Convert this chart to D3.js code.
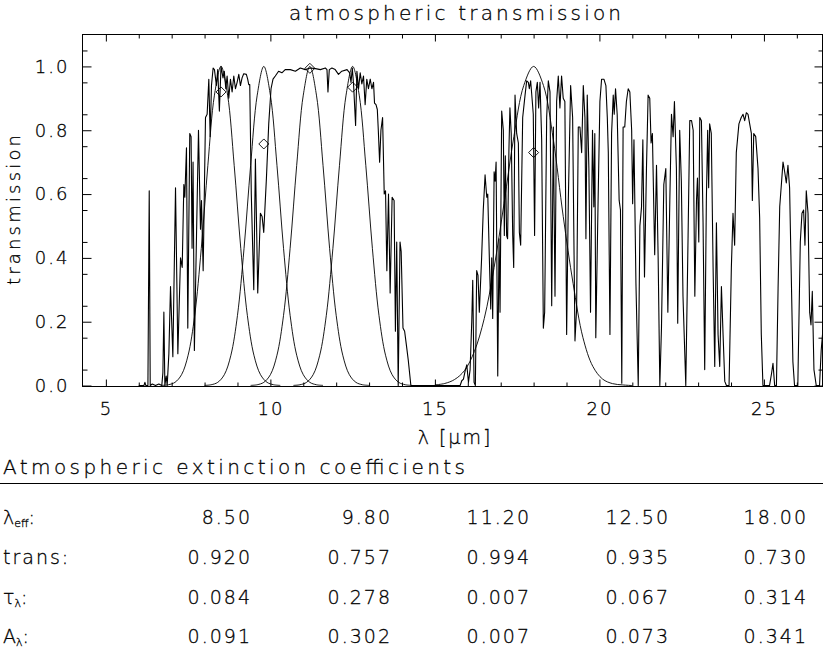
<!DOCTYPE html>
<html>
<head>
<meta charset="utf-8">
<script src="https://cdn.jsdelivr.net/npm/d3@7"></script>
<style>
  body { margin: 0; background: #fff; }
  svg text { font-family: "DejaVu Sans", "Liberation Sans", sans-serif; font-weight: 200; fill: #000; stroke: #000; stroke-width: 0.3px; }
</style>
</head>
<body>
<div id="chart"></div>
<script>
// measured atmospheric transmission (wavelength in micron, transmission)
var specWave = [6.00,6.156,6.187,6.217,6.278,6.318,6.348,6.41,6.51,6.61,6.70,6.733,6.763,6.793,6.834,6.864,6.915,6.965,7.036,7.117,
  7.188,7.269,7.32,7.37,7.40,7.45,7.49,7.55,7.59,7.62,7.65,7.69,7.755,7.815,7.876,7.906,7.957,8.028,8.078,8.129,
  8.17,8.21,8.26,8.30,8.36,8.40,8.45,8.50,8.56,8.60,8.645,8.685,8.736,8.786,8.837,8.888,8.938,8.989,9.04,9.09,
  9.14,9.19,9.27,9.31,9.343,9.373,9.42,9.495,9.545,9.616,9.697,9.748,9.798,9.88,9.95,10.02,10.08,10.15,10.25,10.35,
  10.45,10.607,10.76,10.91,11.06,11.21,11.37,11.52,11.67,11.72,11.75,11.79,11.87,11.97,12.07,12.17,12.33,12.41,12.45,12.49,
  12.53,12.59,12.63,12.68,12.73,12.78,12.83,12.88,12.93,12.98,13.035,13.085,13.135,13.165,13.21,13.25,13.28,13.32,13.36,13.41,
  13.46,13.50,13.54,13.59,13.64,13.70,13.76,13.80,13.84,13.885,13.94,13.975,14.03,14.08,14.13,14.19,14.27,14.6,15.0,15.463,
  15.767,15.817,15.868,15.918,15.969,16.02,16.07,16.12,16.15,16.19,16.23,16.27,16.31,16.35,16.42,16.47,16.525,16.576,16.606,16.657,
  16.697,16.727,16.757,16.80,16.83,16.86,16.91,16.95,16.98,17.03,17.08,17.11,17.14,17.18,17.21,17.25,17.28,17.32,17.365,17.395,
  17.435,17.485,17.537,17.567,17.607,17.668,17.74,17.79,17.84,17.87,17.91,17.96,17.99,18.03,18.07,18.113,18.153,18.195,18.245,18.296,
  18.336,18.397,18.447,18.498,18.55,18.60,18.65,18.70,18.75,18.80,18.85,18.90,18.95,19.004,19.055,19.125,19.186,19.257,19.307,19.358,
  19.408,19.46,19.51,19.56,19.59,19.63,19.68,19.73,19.79,19.83,19.86,19.89,19.96,20.015,20.066,20.137,20.197,20.24,20.27,20.32,
  20.37,20.42,20.45,20.49,20.54,20.60,20.64,20.68,20.72,20.77,20.82,20.875,20.925,20.98,21.01,21.05,21.11,21.18,21.23,21.28,
  21.32,21.37,21.43,21.48,21.53,21.57,21.61,21.68,21.735,21.785,21.836,21.886,21.957,22.018,22.08,22.14,22.19,22.24,22.28,22.34,
  22.38,22.44,22.49,22.54,22.625,22.695,22.746,22.80,22.85,22.90,22.95,22.98,23.02,23.05,23.10,23.15,23.20,23.25,23.29,23.32,
  23.35,23.40,23.455,23.505,23.556,23.606,23.657,23.708,23.758,23.81,23.86,23.94,24.01,24.06,24.11,24.16,24.24,24.31,24.365,24.415,
  24.466,24.517,24.567,24.618,24.648,24.69,24.75,24.82,24.87,24.92,24.97,25.17,25.235,25.275,25.326,25.38,25.43,25.48,25.53,25.58,
  25.63,25.68,25.73,25.78,25.83,25.88,25.93,26.03,26.105,26.156,26.206,26.247,26.287,26.34,26.39,26.43,26.47,26.52,26.59,26.69,
  26.74,26.78];
var specTrans = [0,0,0.01,0,0,0.61,0,0.005,0,0.005,0,0.04,0.23,0,0.03,0,0.10,0.31,0.09,0.62,
  0.10,0.40,0.37,0.63,0.59,0.745,0.18,0.79,0.78,0.43,0.70,0.11,0.47,0.80,0.49,0.58,0.36,0.84,0.85,0.96,
  0.78,0.94,0.995,0.99,0.94,0.99,0.86,1.0,0.964,0.985,0.93,0.97,0.90,0.96,0.92,0.97,0.93,0.95,0.975,0.94,
  0.964,0.977,0.975,0.96,0.943,0.943,0.60,0.30,0.71,0.29,0.54,0.53,0.48,0.65,0.82,0.93,0.96,0.97,0.985,0.98,
  0.99,0.99,0.985,0.995,0.99,0.995,0.993,0.99,0.995,0.99,0.92,0.99,0.995,0.99,0.975,0.985,0.99,0.98,0.95,0.995,
  0.94,0.815,0.985,0.93,0.98,0.945,0.97,0.88,0.96,0.93,0.96,0.93,0.95,0.885,0.88,0.865,0.80,0.70,0.80,0.84,
  0.60,0.61,0.36,0.60,0.29,0.59,0.58,0.17,0.45,0.0,0.45,0.42,0.18,0.17,0.13,0.08,0,0,0,0,
  0,0.015,0.02,0.045,0.065,0.01,0.05,0.20,0.33,0.01,0,0.36,0.345,0.23,0.40,0.55,0.66,0.59,0.60,0.39,
  0.24,0.40,0.21,0.67,0.64,0.70,0.03,0.46,0.23,0.86,0.80,0.47,0.72,0.47,0.46,0.74,0.87,0.79,0.47,0.37,
  0.91,0.79,0.76,0.48,0.44,0.84,0.91,0.955,0.95,0.93,0.955,0.89,0.85,0.47,0.92,0.95,0.87,0.95,0.77,0.18,
  0.23,0.84,0.955,0.92,0.25,0.81,0.28,0.89,0.97,0.87,0.97,0.90,0.89,0.16,0.58,0.94,0.84,0.14,0.24,0.81,
  0.81,0.73,0.94,0.84,0.46,0.91,0.68,0.23,0.80,0.56,0.79,0.15,0.58,0.89,0.96,0.96,0.94,0.84,0.73,0.16,
  0.79,0.91,0.85,0.93,0.85,0.58,0.55,0.007,0.81,0.81,0.89,0.93,0.92,0.80,0.57,0.77,0.32,0.0,0.50,0.56,
  0.77,0.34,0.68,0.91,0.90,0.76,0.79,0.41,0.69,0.40,0.0,0.18,0.63,0.68,0.23,0.58,0.85,0.78,0.89,0.68,
  0.195,0.80,0.64,0.28,0.0,0.47,0.83,0.83,0.80,0.28,0.58,0.65,0.45,0.84,0.83,0.51,0.05,0.58,0.80,0.62,
  0.82,0.79,0.37,0.06,0.51,0.16,0.06,0.31,0.16,0.013,0,0,0.37,0.54,0.44,0.73,0.82,0.84,0.85,0.83,
  0.855,0.85,0.82,0.79,0.58,0.79,0.78,0.68,0.525,0.16,0,0,0.04,0.07,0,0,0.305,0.56,0.63,0.70,
  0.67,0.635,0.69,0.62,0.35,0.075,0,0,0.45,0.54,0.55,0.44,0.61,0.54,0.23,0.19,0.295,0.05,0,0,
  0.11,0.16];

// filter passbands: centre wavelengths and response read at offsets from the centre
var filterCenters = [8.50, 9.80, 11.20, 12.50, 18.00];
var narrowOffsets = [-1.8,-1.6,-1.4,-1.2,-1.0,-0.8,-0.6,-0.4,-0.2,0,0.2,0.4,0.6,0.8,1.0,1.2,1.4,1.6,1.8];
var narrowResponse = [0.0005,0.0025,0.010,0.034,0.095,0.22,0.43,0.69,0.91,1.0,0.91,0.69,0.43,0.22,0.095,0.034,0.010,0.0025,0.0005];
var wideOffsets = [-3.0,-2.7,-2.4,-2.1,-1.8,-1.5,-1.2,-0.9,-0.6,-0.3,0,0.3,0.6,0.9,1.2,1.5,1.8,2.1,2.4,2.7,3.0];
var wideResponse = [0.002,0.0065,0.019,0.047,0.107,0.21,0.37,0.57,0.78,0.94,1.0,0.94,0.77,0.53,0.32,0.15,0.06,0.02,0.006,0.002,0.0];

// table values
var effLabels = ["8.50", "9.80", "11.20", "12.50", "18.00"];
var transValues = [0.920, 0.757, 0.994, 0.935, 0.730];
var tauValues = [0.084, 0.278, 0.007, 0.067, 0.314];
var extValues = [0.091, 0.302, 0.007, 0.073, 0.341];

var xMajor = [5, 10, 15, 20, 25];
var yMajor = [0, 0.2, 0.4, 0.6, 0.8, 1.0];

function init() {
    var w = 823, h = 648;
    var svg = d3.select("#chart").append("svg")
        .attr("width", w).attr("height", h);

    var xScale = d3.scaleLinear().domain([4.29, 26.78]).range([82.5, 822.5]);
    var yScale = d3.scaleLinear().domain([-0.003, 1.1]).range([386.5, 34.5]);

    var plot = svg.append("g");

    // filter curves
    var filterLine = d3.line()
        .x(function(d) { return xScale(d[0]); })
        .y(function(d) { return yScale(d[1]); })
        .curve(d3.curveCatmullRom);

    filterCenters.forEach(function(c, i) {
        var offs = i < 4 ? narrowOffsets : wideOffsets;
        var resp = i < 4 ? narrowResponse : wideResponse;
        var pts = offs.map(function(o, j) { return [c + o, resp[j]]; });
        plot.append("path")
            .attr("d", filterLine(pts))
            .attr("fill", "none")
            .attr("stroke", "#000")
            .attr("stroke-width", 0.9);
    });

    // spectrum
    var specLine = d3.line()
        .x(function(d, i) { return xScale(specWave[i]); })
        .y(function(d) { return yScale(d); });
    plot.append("path")
        .attr("d", specLine(specTrans))
        .attr("fill", "none")
        .attr("stroke", "#000")
        .attr("stroke-width", 1.1)
        .attr("stroke-linejoin", "round");

    // diamonds at effective wavelengths
    plot.selectAll(".dia")
        .data(transValues)
        .enter()
        .append("path")
        .attr("class", "dia")
        .attr("transform", function(d, i) {
            return "translate(" + xScale(filterCenters[i]) + "," + yScale(d) + ")";
        })
        .attr("d", "M0,-5L5,0L0,5L-5,0Z")
        .attr("fill", "none")
        .attr("stroke", "#000")
        .attr("stroke-width", 0.9);

    // frame
    svg.append("rect")
        .attr("x", 82.5).attr("y", 34.5)
        .attr("width", 740).attr("height", 352)
        .attr("fill", "none").attr("stroke", "#000").attr("stroke-width", 1);

    var xMinor = d3.range(5, 27, 1).filter(function(v) { return v % 5 != 0; });
    var yMinor = d3.range(0.05, 1.1, 0.1);

    function noLabels(ax) { return ax.tickFormat(""); }

    // bottom axis
    var gB = svg.append("g").attr("transform", "translate(0,386.5)");
    gB.call(d3.axisBottom(xScale).tickValues(xMajor).tickSize(-7).tickPadding(16).tickFormat(d3.format("d")));
    gB.append("g").call(noLabels(d3.axisBottom(xScale).tickValues(xMinor).tickSize(-4)));
    // top axis
    var gT = svg.append("g").attr("transform", "translate(0,34.5)");
    gT.call(noLabels(d3.axisTop(xScale).tickValues(xMajor).tickSize(-7)));
    gT.append("g").call(noLabels(d3.axisTop(xScale).tickValues(xMinor).tickSize(-4)));
    // left axis
    var gL = svg.append("g").attr("transform", "translate(82.5,0)");
    gL.call(d3.axisLeft(yScale).tickValues(yMajor).tickSize(-9).tickPadding(13).tickFormat(d3.format(".1f")));
    gL.append("g").call(noLabels(d3.axisLeft(yScale).tickValues(yMinor).tickSize(-5)));
    // right axis
    var gR = svg.append("g").attr("transform", "translate(822.5,0)");
    gR.call(noLabels(d3.axisRight(yScale).tickValues(yMajor).tickSize(-8)));
    gR.append("g").call(noLabels(d3.axisRight(yScale).tickValues(yMinor).tickSize(-4)));

    svg.selectAll(".domain").remove();
    svg.selectAll(".tick line").attr("stroke", "#000");
    svg.selectAll(".tick text")
        .style("font-size", "18px")
        .style("letter-spacing", "2px")
        .style("font-family", "DejaVu Sans")
        .style("font-weight", "200");

    // titles
    svg.append("text")
        .attr("x", 455).attr("y", 20)
        .attr("text-anchor", "middle")
        .attr("textLength", 332)
        .style("font-size", "20px")
        .text("atmospheric transmission");

    svg.append("text")
        .attr("x", 455).attr("y", 444)
        .attr("text-anchor", "middle")
        .style("font-size", "19px")
        .style("letter-spacing", "2px")
        .text("λ [μm]");

    svg.append("text")
        .attr("transform", "translate(20,210) rotate(-90)")
        .attr("text-anchor", "middle")
        .attr("textLength", 150)
        .style("font-size", "18px")
        .text("transmission");

    // table
    svg.append("text")
        .attr("x", 3).attr("y", 474)
        .attr("textLength", 462)
        .style("font-size", "20px")
        .text("Atmospheric extinction coefficients");
    svg.append("line")
        .attr("x1", 0).attr("x2", 823)
        .attr("y1", 483.5).attr("y2", 483.5)
        .attr("stroke", "#000").attr("stroke-width", 1);

    var colRight = [252, 392, 531, 670, 808];
    var rowY = [524, 564, 604, 643];
    var rows = [effLabels,
        transValues.map(d3.format(".3f")),
        tauValues.map(d3.format(".3f")),
        extValues.map(d3.format(".3f"))];

    rows.forEach(function(r, ri) {
        svg.selectAll(".row" + ri)
            .data(r)
            .enter()
            .append("text")
            .attr("x", function(d, i) { return colRight[i]; })
            .attr("y", rowY[ri])
            .attr("text-anchor", "end")
            .style("font-size", "19px")
            .style("letter-spacing", "2px")
            .text(function(d) { return d; });
    });

    // row labels
    var l0 = svg.append("text").attr("x", 3).attr("y", rowY[0]).style("font-size", "19px");
    l0.append("tspan").text("λ");
    l0.append("tspan").attr("dy", 3).style("font-size", "11px").text("eff");
    l0.append("tspan").attr("dy", -3).text(":");

    svg.append("text").attr("x", 3).attr("y", rowY[1]).style("font-size", "19px")
        .style("letter-spacing", "2px").text("trans:");

    var l2 = svg.append("text").attr("x", 3).attr("y", rowY[2]).style("font-size", "19px");
    l2.append("tspan").text("τ");
    l2.append("tspan").attr("dy", 3).style("font-size", "11px").text("λ");
    l2.append("tspan").attr("dy", -3).text(":");

    var l3 = svg.append("text").attr("x", 3).attr("y", rowY[3]).style("font-size", "19px");
    l3.append("tspan").text("A");
    l3.append("tspan").attr("dy", 3).style("font-size", "11px").text("λ");
    l3.append("tspan").attr("dy", -3).text(":");
}

window.onload = init;
</script>
</body>
</html>
